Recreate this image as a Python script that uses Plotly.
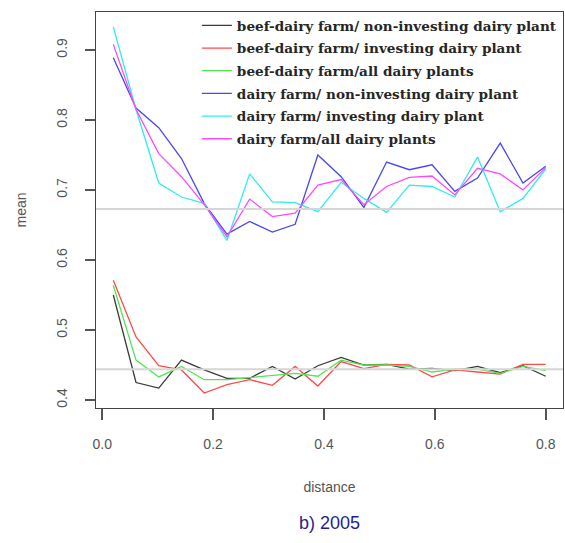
import plotly.graph_objects as go

distance = [0.02, 0.061, 0.102, 0.143, 0.184, 0.225, 0.266, 0.307, 0.348, 0.389,
            0.431, 0.472, 0.513, 0.554, 0.595, 0.636, 0.677, 0.718, 0.759, 0.8]

beef_noninv = [0.550, 0.425, 0.417, 0.457, 0.443, 0.431, 0.431, 0.448, 0.430, 0.449,
               0.461, 0.450, 0.451, 0.444, 0.445, 0.442, 0.448, 0.439, 0.449, 0.434]
beef_inv = [0.571, 0.490, 0.449, 0.443, 0.410, 0.422, 0.429, 0.421, 0.448, 0.420,
            0.455, 0.445, 0.451, 0.450, 0.433, 0.443, 0.440, 0.437, 0.451, 0.451]
beef_all = [0.564, 0.457, 0.433, 0.448, 0.429, 0.429, 0.432, 0.435, 0.438, 0.434,
            0.457, 0.450, 0.450, 0.448, 0.440, 0.444, 0.444, 0.438, 0.448, 0.442]
dairy_noninv = [0.889, 0.817, 0.789, 0.745, 0.681, 0.637, 0.655, 0.640, 0.651, 0.750,
                0.719, 0.675, 0.740, 0.729, 0.736, 0.698, 0.717, 0.767, 0.710, 0.734]
dairy_inv = [0.933, 0.815, 0.710, 0.690, 0.681, 0.628, 0.723, 0.683, 0.682, 0.669,
             0.711, 0.688, 0.668, 0.707, 0.705, 0.690, 0.747, 0.669, 0.688, 0.730]
dairy_all = [0.908, 0.815, 0.752, 0.719, 0.679, 0.633, 0.687, 0.662, 0.667, 0.707,
             0.715, 0.679, 0.705, 0.718, 0.720, 0.693, 0.731, 0.723, 0.700, 0.732]

series_names = [
    "beef-dairy farm/ non-investing dairy plant",
    "beef-dairy farm/ investing dairy plant",
    "beef-dairy farm/all dairy plants",
    "dairy farm/ non-investing dairy plant",
    "dairy farm/ investing dairy plant",
    "dairy farm/all dairy plants",
]
series_values = [beef_noninv, beef_inv, beef_all, dairy_noninv, dairy_inv, dairy_all]
series_colors = ["#3a3a3a", "#ff4a4a", "#55e455", "#4848f0", "#30ecec", "#ff48ff"]

ref_levels = [0.673, 0.444]
x_ticks = [0.0, 0.2, 0.4, 0.6, 0.8]
y_ticks = [0.4, 0.5, 0.6, 0.7, 0.8, 0.9]

fig = go.Figure()
for i, (name, vals, col) in enumerate(zip(series_names, series_values, series_colors)):
    fig.add_trace(go.Scatter(
        x=distance, y=vals, mode="lines", name=name,
        line=dict(color=col, width=1.3), legendgroup=f"g{i}",
    ))

for lv in ref_levels:
    fig.add_shape(type="line", xref="paper", x0=0, x1=1, yref="y", y0=lv, y1=lv,
                  line=dict(color="#d6d6d6", width=2), layer="above")

axis_font = dict(family="Liberation Sans, Arial, sans-serif", size=14, color="#555555")

fig.update_layout(
    width=565, height=543,
    margin=dict(l=96, r=2, t=12, b=135, autoexpand=False),
    paper_bgcolor="white", plot_bgcolor="white",
    showlegend=True,
    legend=dict(
        x=0.216, y=1.005, xanchor="left", yanchor="top",
        font=dict(family="DejaVu Serif, serif", size=13.6,
                  color="#262626", weight="bold"),
        bgcolor="rgba(0,0,0,0)", borderwidth=0,
        traceorder="grouped", tracegroupgap=2,
        itemwidth=30,
    ),
    xaxis=dict(
        range=[-0.0112, 0.8312], tickvals=x_ticks, ticktext=["0.0", "0.2", "0.4", "0.6", "0.8"],
        showgrid=False, zeroline=False, showline=True, mirror=True,
        linecolor="#444444", linewidth=1,
        ticks="outside", ticklen=11, tickcolor="#555555", tickwidth=1.5,
        tickfont=axis_font, ticklabelstandoff=12,
        title=dict(text="distance", font=axis_font, standoff=31),
    ),
    yaxis=dict(
        range=[0.3886, 0.9543], tickvals=y_ticks, ticktext=["0.4", "0.5", "0.6", "0.7", "0.8", "0.9"],
        showgrid=False, zeroline=False, showline=True, mirror=True,
        linecolor="#444444", linewidth=1,
        ticks="outside", ticklen=10, tickcolor="#555555", tickwidth=1.5,
        tickfont=axis_font, tickangle=-90, ticklabelstandoff=12,
        title=dict(text="mean", font=axis_font, standoff=24),
    ),
)

fig.add_annotation(
    text="b) 2005", xref="paper", yref="paper", x=0.5, y=-0.29,
    xanchor="center", yanchor="middle", showarrow=False,
    font=dict(family="Liberation Sans, Arial, sans-serif", size=18, color="#1f1f8f"),
)

fig.write_html("out.html")
